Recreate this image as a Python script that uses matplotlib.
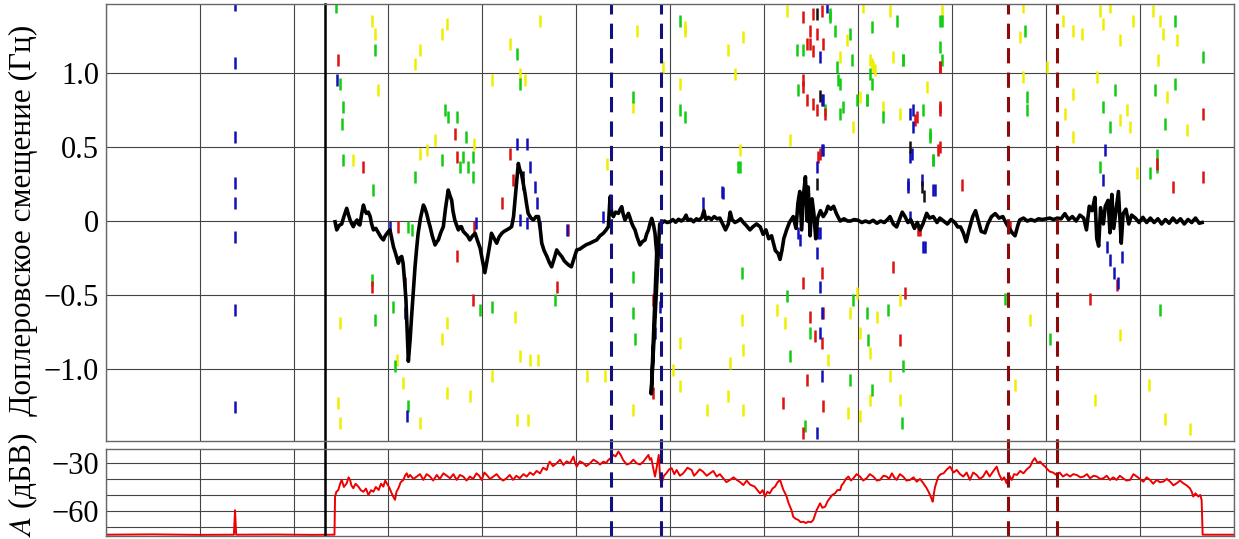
import matplotlib

matplotlib.use('Agg')

import matplotlib.pyplot as plt

plt.rcParams['font.family'] = ['Liberation Serif', 'DejaVu Serif']
plt.rcParams['mathtext.fontset'] = 'stix'
plt.rcParams['axes.unicode_minus'] = True

# время (ч) и доплеровское смещение основной моды (Гц)
black_t = [
    2.436, 2.454, 2.48, 2.507, 2.53, 2.56, 2.58, 2.596, 2.615, 2.63,
    2.65, 2.67, 2.685, 2.70, 2.72, 2.738, 2.755, 2.77, 2.79, 2.81,
    2.825, 2.844, 2.87, 2.90, 2.925, 2.95, 2.97, 2.99, 3.005, 3.02,
    3.04, 3.057, 3.08, 3.11, 3.125, 3.145, 3.16, 3.175, 3.19, 3.205,
    3.216, 3.235, 3.25, 3.27, 3.287, 3.305, 3.32, 3.345, 3.376, 3.39,
    3.41, 3.43, 3.447, 3.47, 3.50, 3.52, 3.535, 3.56, 3.588, 3.61,
    3.64, 3.66, 3.677, 3.69, 3.71, 3.73, 3.748, 3.765, 3.78, 3.80,
    3.82, 3.845, 3.87, 3.90, 3.926, 3.95, 3.98, 4.005, 4.03, 4.05,
    4.067, 4.085, 4.10, 4.13, 4.156, 4.18, 4.21, 4.235, 4.262, 4.29,
    4.315, 4.335, 4.35, 4.37, 4.386, 4.40, 4.42, 4.44, 4.457, 4.475,
    4.49, 4.52, 4.546, 4.575, 4.60, 4.62, 4.635, 4.66, 4.69, 4.715,
    4.74, 4.77, 4.794, 4.82, 4.847, 4.875, 4.90, 4.925, 4.95, 4.98,
    5.007, 5.04, 5.078, 5.11, 5.149, 5.18, 5.22, 5.255, 5.29, 5.32,
    5.344, 5.362, 5.38, 5.397, 5.42, 5.45, 5.47, 5.486, 5.50, 5.52,
    5.54, 5.557, 5.575, 5.592, 5.61, 5.627, 5.65, 5.68, 5.705, 5.734,
    5.75, 5.77, 5.79, 5.805, 5.825, 5.84, 5.858, 5.80, 5.89, 5.91,
    5.94, 5.97, 6.0, 6.03, 6.06, 6.09, 6.12, 6.15, 6.17, 6.19,
    6.22, 6.25, 6.28, 6.31, 6.34, 6.36, 6.38, 6.41, 6.44, 6.47,
    6.50, 6.53, 6.56, 6.59, 6.62, 6.64, 6.66, 6.69, 6.72, 6.75,
    6.78, 6.81, 6.85, 6.88, 6.92, 6.96, 6.99, 7.02, 7.05, 7.08,
    7.12, 7.15, 7.17, 7.19, 7.21, 7.24, 7.27, 7.31, 7.34, 7.36,
    7.38, 7.40, 7.42, 7.44, 7.46, 7.47, 7.49, 7.51, 7.53, 7.55,
    7.57, 7.60, 7.63, 7.66, 7.68, 7.71, 7.74, 7.77, 7.81, 7.85,
    7.89, 7.92, 7.96, 8.00, 8.04, 8.08, 8.12, 8.16, 8.20, 8.24,
    8.28, 8.32, 8.34, 8.375, 8.41, 8.44, 8.47, 8.50, 8.53, 8.56,
    8.60, 8.63, 8.66, 8.69, 8.73, 8.76, 8.80, 8.84, 8.87, 8.91,
    8.95, 8.99, 9.03, 9.06, 9.09, 9.12, 9.15, 9.18, 9.22, 9.25,
    9.28, 9.31, 9.35, 9.38, 9.42, 9.46, 9.50, 9.54, 9.58, 9.61,
    9.64, 9.67, 9.70, 9.72, 9.76, 9.80, 9.84, 9.88, 9.92, 9.96,
    10.0, 10.04, 10.08, 10.12, 10.16, 10.2, 10.24, 10.28, 10.32, 10.36,
    10.40, 10.43, 10.46, 10.49, 10.52, 10.54, 10.56, 10.58, 10.61, 10.63,
    10.66, 10.68, 10.70, 10.72, 10.75, 10.77, 10.80, 10.82, 10.85, 10.88,
    10.91, 10.95, 10.99, 11.03, 11.07, 11.11, 11.15, 11.19, 11.23, 11.27,
    11.31, 11.35, 11.39, 11.43, 11.47, 11.51, 11.55, 11.59, 11.63, 11.66,
]
black_f = [
    -0.005, -0.06, -0.03, -0.02, 0.03, 0.086, 0.04, 0.007, -0.02, -0.038,
    -0.01, 0.007, -0.02, -0.027, 0.05, 0.108, 0.07, 0.052, 0.06, 0.03,
    -0.02, -0.06, -0.05, -0.083, -0.11, -0.128, -0.10, -0.083, -0.07, -0.06,
    -0.12, -0.173, -0.22, -0.286, -0.25, -0.24, -0.286, -0.40, -0.53, -0.78,
    -0.95, -0.80, -0.65, -0.47, -0.31, -0.18, -0.083, 0.02, 0.108, 0.09,
    0.052, 0.0, -0.038, -0.10, -0.162, -0.14, -0.128, -0.08, -0.038, 0.08,
    0.21, 0.17, 0.14, 0.07, 0.007, -0.03, -0.06, -0.04, -0.038, -0.07,
    -0.083, -0.10, -0.128, -0.10, -0.083, -0.13, -0.185, -0.27, -0.35, -0.28,
    -0.218, -0.15, -0.083, -0.12, -0.15, -0.11, -0.083, -0.07, -0.06, -0.05,
    -0.038, 0.03, 0.14, 0.28, 0.39, 0.35, 0.32, 0.25, 0.187, 0.11,
    0.052, 0.02, 0.007, 0.03, 0.03, -0.06, -0.15, -0.20, -0.24, -0.28,
    -0.31, -0.25, -0.196, -0.22, -0.24, -0.27, -0.286, -0.30, -0.31, -0.25,
    -0.196, -0.19, -0.173, -0.16, -0.15, -0.14, -0.128, -0.10, -0.083, -0.06,
    -0.038, 0.164, 0.05, 0.03, 0.06, 0.052, 0.08, 0.097, 0.05, 0.007,
    0.03, 0.052, 0.02, -0.015, -0.04, -0.06, -0.11, -0.162, -0.14, -0.128,
    -0.09, -0.06, -0.01, 0.018, -0.03, -0.083, -0.218, -1.17, -0.02, -0.015,
    0.0, -0.01, -0.005, 0.01, -0.008, 0.012, 0.0, 0.015, 0.04, 0.005,
    0.012, -0.005, 0.015, 0.005, 0.025, 0.07, 0.01, 0.025, 0.01, 0.03,
    0.015, 0.02, -0.02, -0.06, -0.02, 0.06, 0.01, -0.01, 0.0, 0.015,
    -0.01, -0.03, -0.06, -0.04, -0.02, -0.04, -0.09, -0.06, -0.12, -0.10,
    -0.20, -0.22, -0.26, -0.20, -0.12, -0.06, -0.01, 0.03, -0.05, 0.12,
    0.20, -0.06, 0.18, 0.30, 0.0, 0.23, -0.10, 0.15, 0.05, -0.12,
    0.02, 0.07, 0.03, 0.06, 0.10, 0.08, 0.10, 0.05, 0.0, 0.015,
    0.0, 0.0, 0.01, 0.005, -0.01, 0.0, -0.01, 0.005, -0.015, 0.0,
    -0.01, 0.015, 0.03, -0.02, -0.04, 0.01, 0.06, 0.03, -0.01, 0.01,
    -0.05, -0.01, -0.06, -0.02, 0.052, 0.02, 0.03, -0.01, 0.02, 0.0,
    -0.02, 0.01, -0.01, -0.04, -0.04, -0.08, -0.14, -0.06, 0.03, 0.07,
    0.0, -0.07, -0.08, -0.02, 0.03, 0.05, 0.02, 0.03, -0.02, -0.05,
    -0.08, -0.10, -0.03, 0.007, 0.02, 0.0, 0.01, 0.0, 0.015, 0.01,
    0.015, 0.02, 0.01, 0.02, 0.015, 0.05, 0.01, 0.03, 0.0, 0.04,
    0.02, -0.06, 0.10, 0.07, 0.16, -0.12, -0.17, 0.09, -0.02, 0.10,
    0.14, -0.08, 0.18, -0.05, 0.10, 0.20, -0.15, 0.05, 0.08, -0.02,
    0.04, 0.02, -0.01, 0.025, -0.01, 0.02, -0.01, 0.015, -0.02, 0.01,
    -0.015, 0.02, -0.01, 0.015, -0.02, 0.01, -0.01, 0.02, -0.015, -0.01,
]

# отдельные спектральные компоненты по уровню
green_t = [
    2.447, 2.49, 2.525, 2.507, 2.862, 2.525, 2.827, 2.84, 2.862, 3.057,
    3.075, 3.217, 3.25, 3.287, 3.607, 3.64, 3.73, 3.766, 3.80, 3.826,
    3.855, 3.908, 3.908, 3.571, 3.979, 4.103, 4.37, 4.405, 4.777, 5.61,
    5.61, 5.61, 5.628, 6.107, 6.107, 6.727, 6.762, 3.217, 6.159, 6.745,
    7.418, 7.70, 7.755, 7.773, 7.808, 7.844, 7.915, 7.932, 7.985, 8.09,
    8.127, 8.145, 8.27, 8.41, 7.648, 7.347, 7.365, 7.276, 7.24, 7.49,
    7.436, 7.95, 8.092, 8.11, 8.145, 8.32, 8.482, 8.464, 7.915, 7.79,
    7.808, 8.092, 8.145, 8.482, 8.695, 8.766, 8.801, 8.89, 8.89, 7.70,
    8.48, 8.872, 8.872, 8.766, 8.80, 9.794, 9.794, 9.777, 10.734, 10.61,
    10.68, 11.16, 11.266, 11.372, 11.372, 11.674, 11.177, 11.106, 11.177, 10.575,
    9.56, 10.04, 11.21,
]
green_f = [
    1.448, 0.93, 0.77, 0.66, 1.155, 0.412, -0.40, 0.21, -0.67, -0.58,
    -0.985, -0.04, -0.06, 0.30, 0.75, 0.705, 0.705, 0.367, 0.435, 0.57,
    0.367, 0.435, 0.30, 0.412, -0.60, -0.58, 1.133, 0.93, -0.534, 0.84,
    -0.376, -0.624, -0.80, 1.358, 0.75, 0.367, -0.354, -1.255, 0.705, 0.367,
    1.155, 1.38, 1.29, 1.043, 0.93, 0.772, 1.268, 1.088, 0.817, 0.817,
    0.998, 1.313, 0.705, 1.358, 0.75, 1.155, 0.885, -0.917, -0.511, -0.76,
    -1.39, -0.534, -0.624, -0.804, -1.142, -0.60, -0.984, -1.367, -1.075, 0.953,
    0.727, 0.817, 0.93, 1.088, 0.75, 0.592, 0.412, 1.358, 1.088, 1.403,
    1.088, 1.358, 1.178, 0.57, 0.412, 0.84, 0.75, 1.29, 0.885, 0.772,
    0.637, 0.885, 0.66, 1.358, 0.93, 1.11, 0.367, 0.322, 0.446, 0.367,
    -0.53, -0.80, -0.60,
]

yellow_t = [
    2.827, 2.862, 3.625, 3.571, 3.34, 3.287, 2.897, 2.632, 2.49, 2.472,
    3.093, 3.163, 3.625, 3.571, 3.625, 3.34, 3.411, 3.50, 3.915, 4.103,
    4.30, 4.405, 4.458, 4.617, 4.351, 4.103, 4.405, 4.511, 4.60, 4.37,
    4.493, 5.327, 5.61, 5.645, 5.31, 5.61, 6.107, 6.16, 6.62, 6.69,
    6.78, 6.745, 6.107, 6.107, 6.64, 6.62, 6.78, 6.39, 6.762, 6.78,
    6.036, 5.114, 3.873, 2.49, 3.34, 6.159, 7.24, 7.276, 7.808, 7.879,
    8.02, 8.056, 8.145, 8.18, 8.27, 8.375, 8.34, 7.95, 5.929, 7.134,
    7.223, 7.915, 8.02, 8.127, 8.198, 8.34, 8.446, 8.02, 8.127, 7.684,
    7.897, 7.985, 8.446, 8.73, 8.127, 8.16, 8.446, 8.89, 9.76, 9.723,
    9.76, 10.185, 10.291, 10.38, 10.575, 10.61, 10.68, 10.93, 10.787, 10.291,
    10.20, 10.858, 10.787, 10.893, 11.142, 11.213, 11.248, 11.195, 11.39, 11.284,
    11.496, 10.007, 10.54, 10.965, 10.291, 9.83, 10.52, 10.79, 11.10, 11.27,
    11.53, 9.67,
]
yellow_f = [
    1.358, 1.268, 1.335, 1.268, 1.155, 1.065, 0.885, 0.412, -0.69, -1.232,
    -0.94, -1.097, -0.69, -0.80, -1.165, 0.457, 0.48, 0.547, 0.525, 0.953,
    1.20, 0.998, 0.953, 1.358, -0.647, -1.052, -0.917, -0.94, -0.94, -1.345,
    -1.345, 0.389, 0.772, 1.29, -1.052, -1.277, 0.93, 1.29, 1.155, 0.998,
    1.245, 0.48, -0.827, -1.12, -0.962, -1.187, -1.277, -1.277, -0.67, -0.872,
    -1.007, -1.052, -1.187, -1.367, -1.367, 1.313, 1.425, 0.547, 1.11, 1.223,
    0.84, 1.448, 1.065, 1.02, 0.772, 1.11, 1.425, 0.637, 1.043, -0.60,
    -0.69, -0.624, -0.76, -0.894, -0.647, -1.052, -1.21, -1.322, -1.21, -0.94,
    -1.30, -0.489, -0.534, 0.907, 1.088, 1.043, 0.727, 1.425, 1.448, 1.245,
    0.975, 1.358, 1.29, 1.268, 1.425, 1.335, 1.448, 1.358, 1.223, 0.862,
    0.727, 0.75, 0.682, 0.637, 1.425, 1.358, 1.268, 1.088, 1.223, 0.84,
    0.615, 1.043, 0.975, 0.322, 0.57, -0.67, -1.21, -0.77, -1.11, -1.34,
    -1.41, -1.11,
]

red_t = [
    2.472, 3.713, 3.73, 2.738, 2.827, 3.181, 3.73, 3.915, 3.904, 4.21,
    4.334, 4.298, 4.794, 4.919, 3.11, 5.823, 5.823, 7.418, 7.453, 7.489,
    7.524, 7.56, 7.418, 7.453, 7.524, 7.56, 7.648, 7.631, 7.595, 7.577,
    7.418, 7.613, 7.63, 7.49, 7.542, 7.613, 7.63, 7.453, 7.418, 7.205,
    8.375, 8.50, 8.446, 8.64, 8.87, 8.87, 8.87, 8.624, 7.418, 7.489,
    7.524, 7.613, 8.872, 8.872, 8.855, 9.103, 11.177, 11.674, 11.674, 11.355,
    8.66, 8.607, 9.617, 10.47, 10.75,
]
red_f = [
    1.088, 0.592, 0.435, 0.367, -0.444, -0.42, -0.24, -0.04, -0.534, 0.119,
    0.277, 0.457, -0.444, -0.06, -0.04, -0.534, -1.165, 1.38, 1.20, 1.29,
    1.403, 1.268, 0.953, 0.817, 0.795, 0.75, 0.727, 1.20, 0.457, 0.435,
    -0.42, -0.354, -0.624, -0.647, -0.781, -0.827, -1.255, -1.075, -1.435, -1.232,
    -0.309, -0.489, -0.804, -0.06, 0.772, 0.50, 1.043, 0.705, 0.907, 1.20,
    1.15, 1.425, 0.75, 1.043, 0.48, 0.243, 0.389, 0.727, 0.30, 0.232,
    -0.06, 0.682, -0.04, -0.53, -0.43,
]

blue_t = [
    1.372, 1.372, 1.372, 1.372, 1.372, 1.372, 1.372, 1.372, 2.454, 4.37,
    4.476, 4.44, 4.511, 4.564, 4.582, 4.405, 4.476, 4.617, 4.90, 5.291,
    5.84, 5.894, 6.355, 6.55, 3.20, 3.181, 3.932, 3.022, 7.595, 7.613,
    7.631, 7.56, 7.595, 7.56, 7.365, 6.567, 5.361, 7.666, 7.595, 7.613,
    7.595, 7.613, 7.56, 7.577, 7.382, 8.588, 8.57, 8.535, 8.712, 8.819,
    7.613, 7.63, 8.553, 8.589, 8.553, 8.536, 8.677, 8.80, 8.695, 8.553,
    10.628, 10.61, 10.645, 10.68, 10.805, 10.72, 10.77,
]
blue_f = [
    1.46, 1.07, 0.57, 0.26, 0.12, -0.11, -0.60, -1.26, 0.953, 0.525,
    0.525, 0.254, 0.367, 0.232, 0.119, 0.007, -0.016, -0.04, -0.06, 0.029,
    -0.76, -0.58, 0.119, 0.198, -1.322, -0.624, -0.016, -0.04, 1.11, 0.817,
    0.48, 0.367, -0.083, -0.218, -0.083, 0.187, 0.14, 1.448, -0.444, -0.624,
    -0.76, -1.052, -1.435, -0.083, -0.128, 0.75, 0.457, 0.254, -0.173, 0.209,
    0.48, 0.817, 0.727, 0.637, 0.435, 0.232, 0.277, 0.209, -0.173, 0.029,
    0.48, 0.277, -0.173, -0.264, -0.241, -0.35, -0.42,
]

dark_t = [7.56, 7.56, 7.60, 8.553, 8.677, 8.70, 4.44, 7.45]
dark_f = [1.40, 0.25, 0.85, 0.50, 0.232, 0.17, 0.30, 0.15]

# амплитуда сигнала (дБВ)
amp_t = [
    0.0, 0.5, 1.0, 1.36, 1.372, 1.384, 1.8, 2.2, 2.43, 2.436,
    2.45, 2.47, 2.49, 2.507, 2.53, 2.56, 2.58, 2.596, 2.61, 2.63,
    2.655, 2.684, 2.71, 2.738, 2.765, 2.791, 2.82, 2.844, 2.87, 2.90,
    2.925, 2.95, 2.97, 2.986, 3.01, 3.039, 3.055, 3.074, 3.09, 3.11,
    3.135, 3.163, 3.18, 3.199, 3.215, 3.234, 3.27, 3.305, 3.34, 3.376,
    3.41, 3.447, 3.48, 3.518, 3.55, 3.589, 3.625, 3.66, 3.695, 3.73,
    3.765, 3.80, 3.835, 3.87, 3.905, 3.94, 3.97, 3.996, 4.025, 4.05,
    4.085, 4.12, 4.155, 4.19, 4.225, 4.26, 4.295, 4.33, 4.365, 4.40,
    4.44, 4.475, 4.51, 4.546, 4.58, 4.617, 4.65, 4.688, 4.705, 4.72,
    4.755, 4.794, 4.83, 4.865, 4.90, 4.936, 4.955, 4.972, 4.99, 5.007,
    5.04, 5.078, 5.11, 5.149, 5.185, 5.22, 5.255, 5.29, 5.32, 5.344,
    5.37, 5.397, 5.42, 5.45, 5.475, 5.50, 5.54, 5.575, 5.61, 5.645,
    5.68, 5.716, 5.745, 5.77, 5.785, 5.80, 5.82, 5.84, 5.86, 5.88,
    5.895, 5.91, 5.935, 5.96, 5.99, 6.017, 6.045, 6.07, 6.105, 6.14,
    6.185, 6.23, 6.255, 6.28, 6.315, 6.35, 6.39, 6.425, 6.46, 6.496,
    6.53, 6.567, 6.60, 6.638, 6.675, 6.71, 6.745, 6.78, 6.815, 6.85,
    6.90, 6.93, 6.957, 6.985, 7.01, 7.035, 7.06, 7.09, 7.117, 7.145,
    7.17, 7.19, 7.206, 7.225, 7.24, 7.26, 7.277, 7.295, 7.31, 7.34,
    7.365, 7.39, 7.418, 7.445, 7.47, 7.50, 7.524, 7.545, 7.56, 7.58,
    7.596, 7.62, 7.65, 7.675, 7.70, 7.725, 7.755, 7.78, 7.81, 7.825,
    7.844, 7.87, 7.897, 7.925, 7.95, 7.985, 8.02, 8.055, 8.09, 8.125,
    8.163, 8.20, 8.234, 8.27, 8.305, 8.33, 8.36, 8.385, 8.41, 8.445,
    8.48, 8.515, 8.553, 8.59, 8.624, 8.66, 8.695, 8.71, 8.73, 8.75,
    8.766, 8.78, 8.794, 8.81, 8.82, 8.84, 8.855, 8.88, 8.91, 8.945,
    8.98, 9.015, 9.05, 9.085, 9.12, 9.155, 9.19, 9.225, 9.262, 9.295,
    9.33, 9.365, 9.40, 9.44, 9.475, 9.50, 9.53, 9.555, 9.58, 9.61,
    9.635, 9.66, 9.69, 9.725, 9.76, 9.795, 9.83, 9.855, 9.88, 9.91,
    9.936, 9.965, 9.99, 10.015, 10.04, 10.075, 10.11, 10.145, 10.18, 10.22,
    10.255, 10.29, 10.326, 10.365, 10.40, 10.435, 10.468, 10.505, 10.54, 10.575,
    10.61, 10.645, 10.68, 10.715, 10.75, 10.785, 10.82, 10.855, 10.894, 10.93,
    10.965, 11.0, 11.035, 11.07, 11.106, 11.14, 11.177, 11.21, 11.248, 11.285,
    11.32, 11.355, 11.39, 11.425, 11.46, 11.495, 11.53, 11.55, 11.566, 11.59,
    11.62, 11.64, 11.655, 11.666, 12.0,
]
amp_db = [
    -74.8, -74.6, -74.9, -74.8, -59.5, -74.8, -74.7, -74.9, -74.8, -51.0,
    -48.0, -47.0, -43.0, -40.6, -45.0, -42.7, -39.0, -40.6, -44.0, -45.8,
    -43.0, -44.8, -47.0, -48.0, -46.0, -50.0, -47.0, -48.0, -45.0, -46.9,
    -43.0, -44.8, -41.0, -42.7, -45.0, -49.0, -51.0, -53.0, -48.0, -45.8,
    -42.0, -40.6, -38.0, -36.5, -39.0, -37.5, -40.0, -38.5, -37.0, -40.6,
    -37.0, -38.5, -41.0, -37.5, -40.0, -36.5, -38.0, -39.6, -37.0, -40.6,
    -37.5, -38.5, -41.0, -38.5, -40.0, -36.5, -38.0, -40.6, -36.0, -37.5,
    -40.0, -38.5, -37.0, -39.6, -41.0, -39.6, -37.5, -40.6, -38.0, -39.6,
    -37.0, -38.5, -36.0, -37.5, -35.0, -36.5, -33.0, -34.4, -31.0, -29.2,
    -32.0, -30.2, -28.0, -31.3, -29.0, -30.2, -28.0, -26.0, -30.0, -32.3,
    -29.0, -30.2, -32.0, -30.2, -28.0, -29.2, -31.0, -29.2, -30.0, -28.1,
    -27.0, -25.0, -26.0, -22.9, -25.0, -28.1, -31.0, -30.2, -28.0, -30.2,
    -31.0, -29.2, -27.0, -25.0, -28.0, -27.0, -33.0, -38.5, -32.0, -25.0,
    -40.0, -42.7, -38.0, -36.5, -34.0, -33.3, -37.0, -34.4, -38.0, -36.5,
    -33.0, -34.4, -38.0, -36.5, -34.0, -35.4, -38.0, -36.5, -35.0, -38.5,
    -37.0, -39.6, -42.0, -40.6, -39.0, -40.6, -42.0, -43.8, -41.0, -43.5,
    -44.8, -47.0, -49.0, -47.0, -51.0, -48.0, -49.0, -46.0, -44.8, -42.0,
    -40.6, -44.0, -46.9, -49.0, -51.0, -55.0, -57.3, -60.0, -63.6, -65.0,
    -65.6, -67.0, -66.7, -67.5, -66.7, -67.0, -65.6, -62.0, -59.4, -57.0,
    -55.2, -58.0, -57.3, -54.0, -52.0, -50.0, -49.0, -47.0, -46.9, -44.0,
    -42.7, -40.0, -38.5, -41.0, -39.6, -37.0, -38.5, -41.0, -39.6, -37.0,
    -38.5, -41.0, -40.6, -38.0, -38.5, -40.0, -36.5, -39.0, -40.6, -37.0,
    -38.5, -41.0, -40.6, -39.0, -41.7, -40.0, -42.7, -44.0, -45.8, -48.0,
    -50.0, -52.0, -54.2, -48.0, -44.8, -41.0, -38.5, -37.0, -36.5, -34.0,
    -32.3, -36.0, -34.4, -37.0, -38.5, -36.0, -40.6, -36.0, -37.5, -40.0,
    -38.5, -35.0, -38.5, -35.0, -32.3, -37.0, -40.6, -39.0, -42.7, -38.0,
    -40.6, -37.0, -37.5, -35.0, -36.5, -34.0, -32.3, -29.0, -27.0, -30.0,
    -29.2, -31.0, -32.3, -34.0, -35.4, -36.0, -37.5, -36.0, -38.5, -37.0,
    -38.5, -37.0, -37.5, -39.0, -38.5, -37.0, -39.6, -38.0, -38.5, -40.0,
    -39.6, -38.0, -40.6, -39.0, -40.6, -38.0, -39.6, -41.0, -40.6, -37.0,
    -38.5, -40.0, -41.7, -39.0, -40.6, -43.0, -40.6, -42.0, -41.7, -40.0,
    -41.7, -44.0, -42.7, -41.0, -42.7, -44.0, -45.8, -48.0, -51.0, -49.0,
    -51.0, -50.0, -53.0, -74.8, -74.8,
]

# моменты событий (ч)
t_onset = 2.33
t_blue = [5.37, 5.90]
t_red = [9.60, 10.12]

fig = plt.figure(figsize=(12.39, 5.39), dpi=100)
ax1 = fig.add_axes([0.0856, 0.1818, 0.9104, 0.8108])
ax2 = fig.add_axes([0.0856, 0.0056, 0.9104, 0.1614])

for ax in (ax1, ax2):
    ax.set_xlim(0, 12)
    ax.set_xticks(range(13))
    ax.grid(True, color='#444444', lw=0.8)
    ax.set_axisbelow(True)
    ax.tick_params(length=0, labelbottom=False, labelsize=22, pad=5)
    for sp in ax.spines.values():
        sp.set_color('#666666')
        sp.set_linewidth(1.0)

# спектрограмма доплеровского смещения
dash = dict(ls='none', marker='|', ms=8, mew=1.8)
ax1.plot(yellow_t, yellow_f, color='#eeee00', **dash)
ax1.plot(green_t, green_f, color='#11cc11', **dash)
ax1.plot(red_t, red_f, color='#dd1111', **dash)
ax1.plot(blue_t, blue_f, color='#1111bb', **dash)
ax1.plot(dark_t, dark_f, color='#111111', **dash)
ax1.plot(black_t, black_f, color='black', lw=2.6)

ax1.set_ylim(-1.49, 1.47)
ax1.set_yticks([-1.0, -0.5, 0, 0.5, 1.0])
ax1.set_yticklabels(['\u22121.0', '\u22120.5', '0', '0.5', '1.0'])

# амплитуда
ax2.plot(amp_t, amp_db, color='#ee0000', lw=1.4)
ax2.set_ylim(-75.6, -21.3)
ax2.set_yticks([-70, -60, -50, -40, -30])
ax2.set_yticklabels(['', '\u221260', '', '', '\u221230'])

# вертикальные маркеры событий
ax1.axvline(t_onset, color='black', lw=1.8, ymin=-0.03, clip_on=False)
ax2.axvline(t_onset, color='black', lw=1.8)
for t in t_blue:
    ax1.axvline(t, color='#101080', lw=2.2, ls=(0, (5, 3)), ymin=-0.03, clip_on=False)
    ax2.axvline(t, color='#101080', lw=2.2, ls=(0, (5, 3)))
for t in t_red:
    ax1.axvline(t, color='#8b0a0a', lw=2.2, ls=(0, (5, 3)), ymin=-0.03, clip_on=False)
    ax2.axvline(t, color='#8b0a0a', lw=2.2, ls=(0, (5, 3)))

fig.text(0.019, 0.592, 'Доплеровское смещение (Гц)', rotation=90,
         ha='center', va='center', fontsize=22.5)
fig.text(0.019, 0.1, '$A$ (дБВ)', rotation=90,
         ha='center', va='center', fontsize=22.5)

fig.savefig('out.png', dpi=100)
